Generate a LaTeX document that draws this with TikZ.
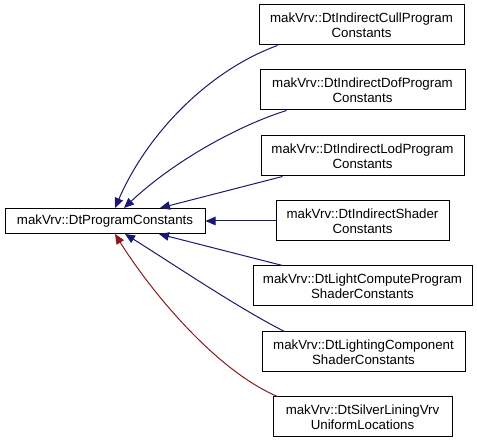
\documentclass[tikz,border=0pt]{standalone}
\usepackage{fontspec}
\setmainfont{Liberation Sans}
\usetikzlibrary{arrows.meta}
\definecolor{edgeblue}{HTML}{191970}
\definecolor{edgered}{HTML}{8B1A1A}
\tikzset{
  cls/.style={draw=black, line width=1pt, fill=white, align=center, inner sep=0pt,
    minimum height=40pt, font=\fontsize{13.3}{15.3}\selectfont},
  mainbox/.style={cls, minimum height=25pt, minimum width=200pt},
  inh/.style={draw=edgeblue, line width=1pt, -{Triangle[length=10pt,width=8.5pt]}},
  inhred/.style={inh, draw=edgered, -{Triangle[length=10pt,width=8.5pt,fill=edgered]}},
}
\begin{document}
\begin{tikzpicture}[x=1pt,y=-1pt]
\useasboundingbox[fill=white] (0,0) rectangle (477,443);
\node[mainbox] (m) at (105,221) {makVrv::DtProgramConstants};
\node[cls, minimum width=205pt] (b1) at (361.5,25) {makVrv::DtIndirectCullProgram\\Constants};
\node[cls, minimum width=205pt] (b2) at (362.5,90) {makVrv::DtIndirectDofProgram\\Constants};
\node[cls, minimum width=203pt] (b3) at (362.5,156) {makVrv::DtIndirectLodProgram\\Constants};
\node[cls, minimum width=173pt] (b4) at (362.5,221) {makVrv::DtIndirectShader\\Constants};
\node[cls, minimum width=219pt] (b5) at (362.5,286) {makVrv::DtLightComputeProgram\\ShaderConstants};
\node[cls, minimum width=203pt] (b6) at (363.5,352) {makVrv::DtLightingComponent\\ShaderConstants};
\node[cls, minimum width=179pt] (b7) at (362.5,417) {makVrv::DtSilverLiningVrv\\UniformLocations};

\coordinate (t1) at ([xshift=10pt]m.north);
\coordinate (t2) at ([xshift=19pt]m.north);
\coordinate (t3) at ([xshift=55pt]m.north);
\coordinate (s7) at ([xshift=10pt]m.south);
\coordinate (s6) at ([xshift=20pt]m.south);
\coordinate (s5) at ([xshift=54pt]m.south);

\draw[inh] ([xshift=19pt]b1.south west) .. controls (210,70) and (148,132) .. (t1);
\draw[inh] ([xshift=27pt]b2.south west) .. controls (240,125) and (175,160) .. (t2);
\draw[inh] ([xshift=22pt]b3.south west) -- (t3);
\draw[inh] (b4.west) -- (m.east);
\draw[inh] ([xshift=30pt]b5.north west) -- (s5);
\draw[inh] ([xshift=23pt]b6.north west) .. controls (238,308) and (170,262) .. (s6);
\draw[inhred] ([xshift=5pt]b7.north west) .. controls (215,370) and (150,290) .. (s7);
\end{tikzpicture}
\end{document}
